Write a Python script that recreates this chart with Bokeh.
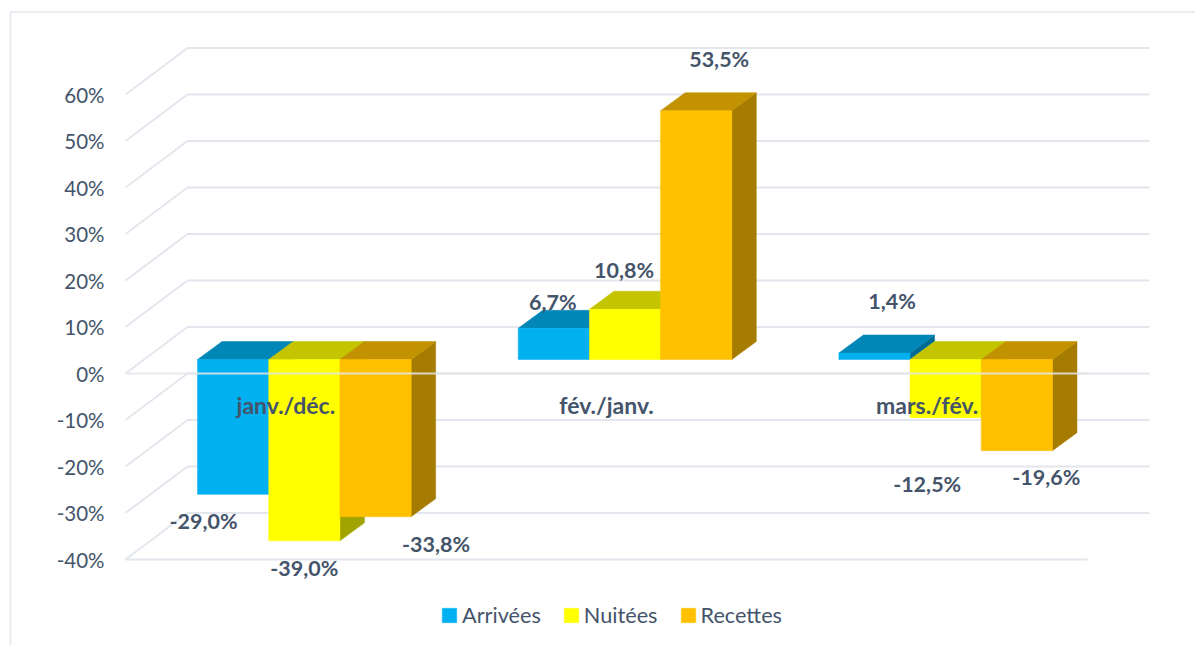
from bokeh.plotting import figure
from bokeh.models import ColumnDataSource, LinearAxis, FixedTicker, PrintfTickFormatter, Legend, LegendItem, Range1d, BoxAnnotation
from bokeh.core.properties import value
from bokeh.embed import file_html
from bokeh.resources import INLINE

categories = ["janv./déc.", "fév./janv.", "mars./fév."]
series_names = ["Arrivées", "Nuitées", "Recettes"]
arrivees = [-29.0, 6.7, 1.4]
nuitees = [-39.0, 10.8, -12.5]
recettes = [-33.8, 53.5, -19.6]
y_ticks = [-40, -30, -20, -10, 0, 10, 20, 30, 40, 50, 60]

FONT = "Lato"
TEXT = "#44546A"
GRID = "#E3E6EC"
W, H = 1195, 645
ORIGIN_X, ORIGIN_Y = 125, 373           # screen position of (0, 0)
PX_X, PX_Y = 320.67, 4.65               # pixels per category, per percentage point


def dx(px):
    return px / PX_X


def dy(px):
    return px / PX_Y


p = figure(width=W, height=H, output_backend="svg", toolbar_location=None, min_border=0,
           x_range=Range1d(-ORIGIN_X / PX_X, (W - ORIGIN_X) / PX_X),
           y_range=Range1d((ORIGIN_Y - H) / PX_Y, ORIGIN_Y / PX_Y),
           x_axis_location=None, y_axis_location=None)
p.grid.visible = False
p.outline_line_color = None
p.background_fill_color = "white"

# outer frame of the picture: only its left and top edges fall inside the canvas
p.add_layout(BoxAnnotation(left=10, right=W + 20, top=H - 11.5, bottom=-20, left_units="screen", right_units="screen",
                           top_units="screen", bottom_units="screen", fill_color=None, line_color="#E3E7EE",
                           line_alpha=1, line_width=1.5))

yaxis = LinearAxis(fixed_location=0, ticker=FixedTicker(ticks=y_ticks),
                   formatter=PrintfTickFormatter(format="%d%%"))
yaxis.axis_line_color = None
yaxis.major_tick_line_color = None
yaxis.minor_tick_line_color = None
yaxis.major_label_standoff = 15
yaxis.major_label_text_font = FONT
yaxis.major_label_text_font_size = "20.5px"
yaxis.major_label_text_color = TEXT
p.add_layout(yaxis, "left")

# walls: slanted floor lines and back gridlines
WALL_X, WALL_Y = dx(62), dy(46.5)
n_cat = len(categories)
for t in y_ticks:
    p.line([0, WALL_X, n_cat + WALL_X], [t, t + WALL_Y, t + WALL_Y], line_color=GRID, line_width=2)
p.line([0, n_cat], [y_ticks[0], y_ticks[0]], line_color=GRID, line_width=2)

# bars
PLANE_X, PLANE_Y = dx(18.5), dy(14)     # bars stand a little behind the front plane
DEPTH_X, DEPTH_Y = dx(24.5), dy(18)
BAR_W = dx(71.2)
all_series = [arrivees, nuitees, recettes]
faces = [("#00B0F0", "#0086B7", "#006B92"),
         ("#FFFF00", "#C4C400", "#A3A300"),
         ("#FFC000", "#C29200", "#A67C00")]
items = []
centres = []
for s, (vals, (front, cap, side), name) in enumerate(zip(all_series, faces, series_names)):
    lefts = [i + 0.5 + PLANE_X + (s - 1.5) * BAR_W for i in range(n_cat)]
    rights = [l + BAR_W for l in lefts]
    centres.append([l + BAR_W / 2 for l in lefts])
    tops = [max(v, 0) + PLANE_Y for v in vals]
    bottoms = [min(v, 0) + PLANE_Y for v in vals]
    p.patches([[r, r + DEPTH_X, r + DEPTH_X, r] for r in rights],
              [[t, t + DEPTH_Y, b + DEPTH_Y, b] for t, b in zip(tops, bottoms)],
              fill_color=side, line_color=side, line_width=0.5)
    p.patches([[l, l + DEPTH_X, r + DEPTH_X, r] for l, r in zip(lefts, rights)],
              [[t, t + DEPTH_Y, t + DEPTH_Y, t] for t in tops],
              fill_color=cap, line_color=cap, line_width=0.5)
    r_front = p.quad(left=lefts, right=rights, top=tops, bottom=bottoms, fill_color=front, line_color=front,
                     line_width=0.5)
    items.append(LegendItem(label=name, renderers=[r_front]))

# front line of the zero plane crosses the bars
p.line([0, n_cat], [0, 0], line_color="#E4E6EA", line_width=2, line_alpha=0.85)

# category labels, in the plot at a fixed distance under zero
p.text([i + 0.5 for i in range(n_cat)], [0] * n_cat, text=categories, text_font=value(FONT), text_font_style="bold",
       text_font_size="23px", text_color=TEXT, text_align="center", text_baseline="middle", y_offset=31)

# data labels, hand placed as in the reference
label_dx = [[-29.5, -1, 17.5], [0, -1, -18.5], [60.5, 23, 29.5]]
label_dy = [[27, -26, -52], [27, -39, 66], [27, -52, 26]]
xs, ys, txt, xo, yo = [], [], [], [], []
for s, vals in enumerate(all_series):
    for i, v in enumerate(vals):
        xs.append(centres[s][i])
        ys.append(v + PLANE_Y)
        txt.append(f"{v:.1f}%".replace(".", ","))
        xo.append(label_dx[s][i])
        yo.append(label_dy[s][i])
src = ColumnDataSource(dict(x=xs, y=ys, t=txt, xo=xo, yo=yo))
p.text("x", "y", text="t", x_offset="xo", y_offset="yo", source=src, text_font=value(FONT), text_font_style="bold",
       text_font_size="21.5px", text_color=TEXT, text_align="center", text_baseline="middle")

legend = Legend(items=items, orientation="horizontal", location=(440, 17),
                background_fill_alpha=0, border_line_color=None, padding=0, margin=0, spacing=21,
                glyph_width=18, glyph_height=18, label_standoff=4, label_text_font=FONT,
                label_text_font_size="21.7px", label_text_color=TEXT, label_height=18)
p.add_layout(legend, "center")

open("out.html", "w").write(file_html(p, INLINE))
